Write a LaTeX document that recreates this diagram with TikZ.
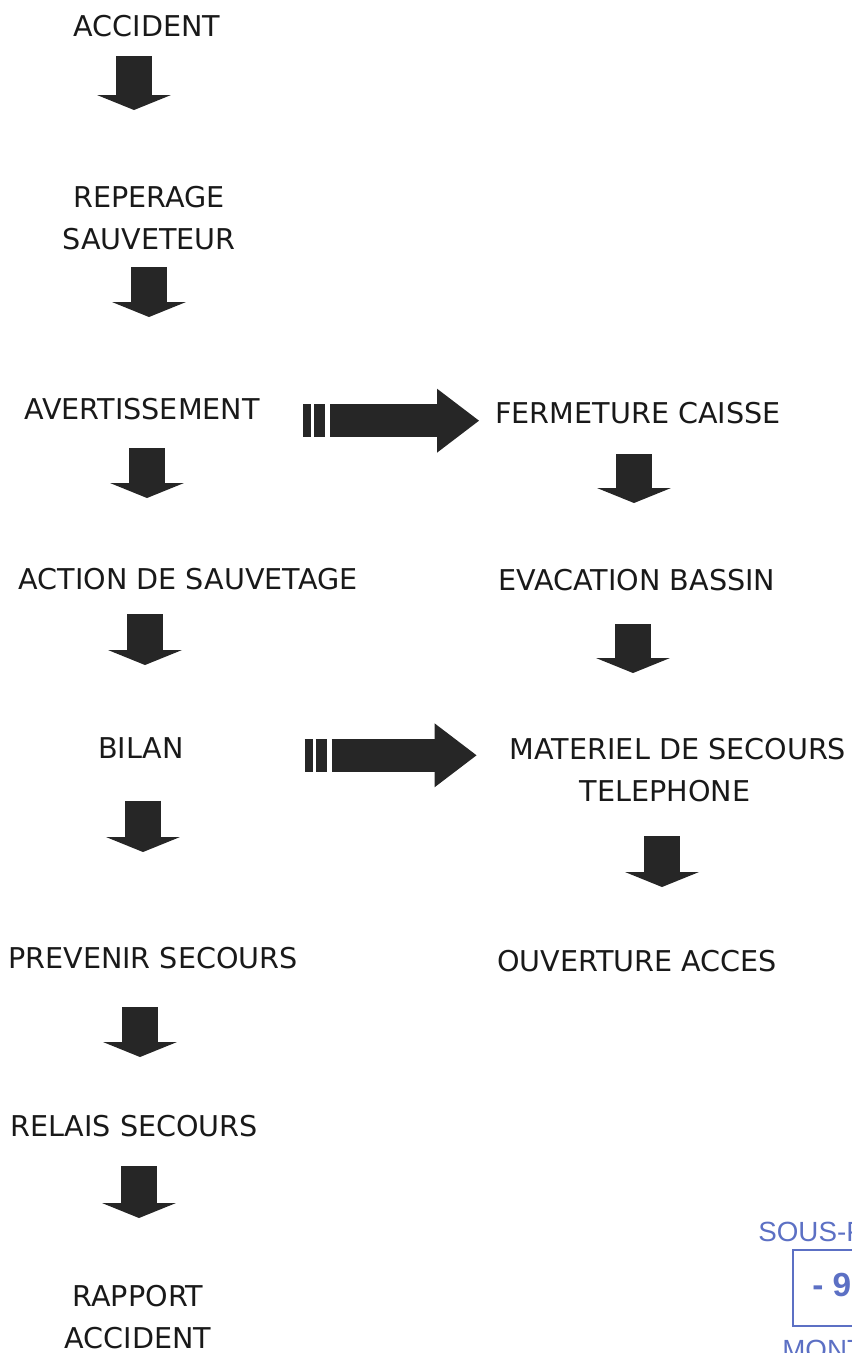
\documentclass[tikz,border=0pt]{standalone}
\usepackage{fontspec}
\setmainfont{DejaVu Sans}
\newfontfamily\stampfont{Liberation Sans}
\usetikzlibrary{arrows.meta}
\definecolor{stampblue}{RGB}{92,112,196}

\begin{document}
\begin{tikzpicture}[x=0.02cm,y=-0.02cm,
  main node/.style={inner sep=0pt,anchor=north,align=center,text=black!90,
    font=\fontsize{16.3}{23.9}\selectfont},
  downarr/.style={draw=black!85,line width=0.72cm,
    -{Triangle[length=0.3cm,width=1.48cm,line width=0pt]}},
  rightarr/.style={draw=black!85,line width=0.66cm,
    dash pattern=on 0.16cm off 0.06cm on 0.22cm off 0.1cm on 10cm,
    -{Triangle[length=0.84cm,width=1.28cm,line width=0pt]}},
  stamp/.style={inner sep=0pt,anchor=north west,text=stampblue,
    font=\fontsize{15.8}{18}\selectfont\stampfont}]
  \useasboundingbox (0,0) rectangle (852,1353);
  \clip (0,0) rectangle (852,1353);

  \node[main node] (1) at (147,15) {ACCIDENT};
  \node[main node] (2) at (149,186) {REPERAGE\\SAUVETEUR};
  \node[main node] (3) at (142,398) {AVERTISSEMENT};
  \node[main node] (4) at (638,402) {FERMETURE CAISSE};
  \node[main node] (5) at (188,568) {ACTION DE SAUVETAGE};
  \node[main node] (6) at (637,569) {EVACATION BASSIN};
  \node[main node] (7) at (141,737) {BILAN};
  \node[main node] (8) at (678,738) {MATERIEL DE SECOURS\\\hspace*{-0.52cm}TELEPHONE};
  \node[main node] (9) at (637,950) {OUVERTURE ACCES};
  \node[main node] (10) at (153,947) {PREVENIR SECOURS};
  \node[main node] (11) at (134,1115) {RELAIS SECOURS};
  \node[main node] (12) at (138,1285) {RAPPORT\\ACCIDENT};

  % left column
  \path
   ([xshift=-0.26cm]1.south) edge[downarr,shorten <=0.38cm,shorten >=1.52cm] ([xshift=-0.26cm]1.south |- 2.north)
   (2.south) edge[downarr,shorten <=0.34cm,shorten >=1.62cm] (2.south |- 3.north)
   ([xshift=0.1cm]3.south) edge[downarr,shorten <=0.56cm,shorten >=1.4cm] ([xshift=0.1cm]3.south |- 5.north)
   ([xshift=-0.86cm]5.south) edge[downarr,shorten <=0.48cm,shorten >=1.44cm] ([xshift=-0.86cm]5.south |- 7.north)
   ([xshift=0.04cm]7.south) edge[downarr,shorten <=0.84cm,shorten >=1.9cm] ([xshift=0.04cm]7.south |- 10.north)
   ([xshift=-0.26cm]10.south) edge[downarr,shorten <=0.76cm,shorten >=1.16cm] ([xshift=-0.26cm]10.south |- 11.north)
   ([xshift=0.1cm]11.south) edge[downarr,shorten <=0.58cm,shorten >=1.34cm] ([xshift=0.1cm]11.south |- 12.north);

  % right column
  \path
   ([xshift=-0.08cm]4.south) edge[downarr,shorten <=0.6cm,shorten >=1.32cm] ([xshift=-0.08cm]4.south |- 6.north)
   ([xshift=-0.08cm]6.south) edge[downarr,shorten <=0.66cm,shorten >=1.3cm] ([xshift=-0.08cm]6.south |- 8.north)
   ([xshift=-0.32cm]8.south) edge[downarr,shorten <=0.68cm,shorten >=1.26cm] ([xshift=-0.32cm]8.south |- 9.north);

  % across
  \path
   ([yshift=-0.23cm]3.east) edge[rightarr,shorten <=0.86cm,shorten >=0.32cm] ([yshift=-0.23cm]3.east -| 4.west)
   ([yshift=-0.15cm]7.east) edge[rightarr,shorten <=2.41cm,shorten >=0.66cm] ([yshift=-0.15cm]7.east -| 8.west);

  % stamp, cut by the page edge
  \node[stamp] (s1) at (758,1222) {SOUS-P};
  \node[stamp,font=\fontsize{19}{20}\selectfont\stampfont\bfseries] (s2) at (812,1273) {- 9};
  \node[stamp] (s3) at (782,1340) {MONT};
  \draw[stampblue,line width=0.05cm] (793,1250) rectangle (900,1326);
\end{tikzpicture}
\end{document}
